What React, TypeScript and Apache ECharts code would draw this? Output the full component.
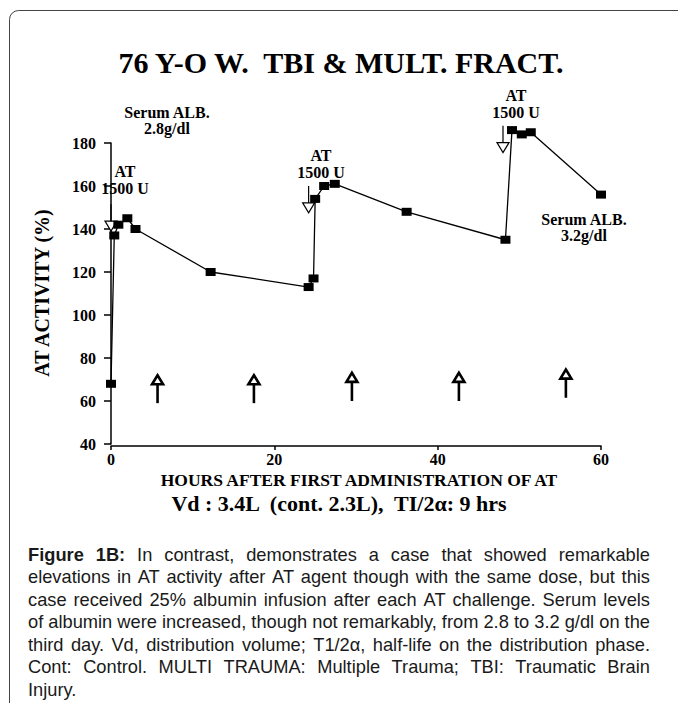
import React, { useEffect, useRef } from 'react';
import * as echarts from 'echarts';

// AT activity measurements
const hours = [0, 0.4, 0.9, 2, 3, 12.2, 24.2, 24.8, 25, 26.1, 27.4, 36.2, 48.3, 49.1, 50.3, 51.4, 60];
const activity = [68, 137, 142, 145, 140, 120, 113, 117, 154, 160, 161, 148, 135, 186, 184, 185, 156];

// AT 1500 U administrations (open down triangles): hour, tip value
const atDoseHours = [0, 24.2, 48.0];
const atDoseTip = [139, 147.5, 175.5];

// albumin infusion arrows: hour, bottom, top
const albHours = [5.7, 17.5, 29.5, 42.6, 55.7];
const albBottom = [59, 59, 60, 60, 61.5];
const albTop = [72, 72, 73.1, 73.1, 74.6];

const xTicks = [0, 20, 40, 60];
const yTicks = [40, 60, 80, 100, 120, 140, 160, 180];

const captionLines = [
  'Figure 1B: In contrast, demonstrates a case that showed remarkable',
  'elevations in AT activity after AT agent though with the same dose, but this',
  'case received 25% albumin infusion after each AT challenge. Serum levels',
  'of albumin were increased, though not remarkably, from 2.8 to 3.2 g/dl on the',
  'third day. Vd, distribution volume; T1/2\u03b1, half-life on the distribution phase.',
  'Cont: Control. MULTI TRAUMA: Multiple Trauma; TBI: Traumatic Brain',
  'Injury.',
];

const SERIF = '"Liberation Serif", "Times New Roman", serif';

function buildCaption(): any[] {
  const ctx = document.createElement('canvas').getContext('2d') as CanvasRenderingContext2D;
  const probe = 'elevations in AT activity after AT agent';
  ctx.font = '18px monospace';
  const mono = ctx.measureText(probe).width;
  ctx.font = '18px "Liberation Sans Narrow", monospace';
  const narrowOk = Math.abs(ctx.measureText(probe).width - mono) > 1;
  const SANS = narrowOk
    ? '"Liberation Sans Narrow", "Arial Narrow", sans-serif'
    : '"Liberation Sans", Arial, sans-serif';
  const fs = 18;
  const meas = (t: string, bold: boolean) => {
    ctx.font = `${bold ? 'bold ' : ''}${fs}px ${SANS}`;
    return ctx.measureText(t).width;
  };
  const left = 28;
  const right = 650;
  const width = right - left;
  const lines = captionLines.map((line, li) =>
    line.split(' ').map((w, wi) => ({ w, bold: li === 0 && wi < 2 }))
  );
  const spaceW = meas(' ', false);
  let maxNat = 0;
  lines.slice(0, 6).forEach((ws) => {
    const tot = ws.reduce((s, o) => s + meas(o.w, o.bold), 0) + spaceW * (ws.length - 1);
    maxNat = Math.max(maxNat, tot);
  });
  const sx = width / maxNat;
  const els: any[] = [];
  lines.forEach((ws, li) => {
    const y = 555 + li * 22.5;
    const widths = ws.map((o) => meas(o.w, o.bold) * sx);
    const sum = widths.reduce((a, b) => a + b, 0);
    const justify = li < captionLines.length - 1 && ws.length > 1;
    const gap = justify ? (width - sum) / (ws.length - 1) : spaceW * sx;
    let x = left;
    ws.forEach((o, i) => {
      els.push({
        type: 'text',
        x,
        y,
        scaleX: sx,
        style: {
          text: o.w,
          x: 0,
          y: 0,
          font: `${o.bold ? 'bold ' : ''}${fs}px ${SANS}`,
          fill: '#1a1a1a',
          textAlign: 'left',
          textVerticalAlign: 'middle',
        },
      });
      x += widths[i] + gap;
    });
  });
  return els;
}

function serifText(text: string, x: number, y: number, size: number, extra: any = {}, lineHeight?: number) {
  return {
    type: 'text',
    x,
    y,
    ...extra,
    style: {
      text,
      x: 0,
      y: 0,
      font: `bold ${size}px ${SERIF}`,
      fill: '#000',
      textAlign: 'center',
      textVerticalAlign: 'middle',
      ...(lineHeight ? { lineHeight } : {}),
    },
  };
}

export default function App() {
  const ref = useRef<HTMLDivElement>(null);
  useEffect(() => {
    if (!ref.current) return;
    const chart = echarts.init(ref.current, undefined, { renderer: 'svg' });

    const graphic: any[] = [
      {
        type: 'rect',
        shape: { x: 9.5, y: 10.5, width: 720, height: 760, r: 9 },
        style: { fill: 'none', stroke: '#444', lineWidth: 1 },
        silent: true,
      },
      serifText('76 Y-O W.  TBI & MULT. FRACT.', 341, 62, 30),
      serifText('Serum ALB.\n2.8g/dl', 167, 120, 16, {}, 16),
      serifText('AT\n1500 U', 125, 180, 16, {}, 17),
      serifText('AT\n1500 U', 321, 164, 16, {}, 17),
      serifText('AT\n1500 U', 516, 104, 16, {}, 17),
      serifText('Serum ALB.\n3.2g/dl', 584, 227, 16, {}, 16),
      serifText('AT ACTIVITY (%)', 42, 293, 20, { rotation: Math.PI / 2 }),
      serifText('HOURS AFTER FIRST ADMINISTRATION OF AT', 359, 480, 17.5),
      serifText('Vd : 3.4L  (cont. 2.3L),  TI/2\u03b1: 9 hrs', 339, 503, 22),
      ...buildCaption(),
    ];

    chart.setOption({
      animation: false,
      backgroundColor: '#fff',
      grid: { left: 111, right: 77, top: 143, bottom: 259, containLabel: false },
      xAxis: {
        type: 'value',
        min: 0,
        max: 60,
        interval: 20,
        offset: 2,
        splitLine: { show: false },
        axisLine: { show: true, lineStyle: { color: '#000', width: 1.5 } },
        axisTick: { show: true, length: 4, lineStyle: { color: '#000', width: 1.5 } },
        axisLabel: {
          margin: 5,
          color: '#000',
          fontFamily: SERIF,
          fontWeight: 'bold',
          fontSize: 16,
          formatter: (v: number) => (xTicks.includes(v) ? String(v) : ''),
        },
      },
      yAxis: {
        type: 'value',
        min: 40,
        max: 180,
        interval: 20,
        offset: 14,
        splitLine: { show: false },
        axisLine: { show: true, lineStyle: { color: '#000', width: 1.5 } },
        axisTick: { show: true, length: 7, lineStyle: { color: '#000', width: 1.5 } },
        axisLabel: {
          margin: 1,
          color: '#000',
          fontFamily: SERIF,
          fontWeight: 'bold',
          fontSize: 16,
          formatter: (v: number) => (yTicks.includes(v) ? String(v) : ''),
        },
      },
      series: [
        {
          type: 'custom',
          z: 1,
          clip: false,
          data: atDoseHours.map((h, i) => [h, atDoseTip[i]]),
          renderItem: (_p: any, api: any) => {
            const p = api.coord([api.value(0), api.value(1)]);
            const w = 12, h = 10, L = 17;
            return {
              type: 'group',
              children: [
                { type: 'line', shape: { x1: p[0], y1: p[1] - h - L, x2: p[0], y2: p[1] - h }, style: { stroke: '#000', lineWidth: 1.2 } },
                {
                  type: 'polygon',
                  shape: { points: [[p[0] - w / 2, p[1] - h], [p[0] + w / 2, p[1] - h], [p[0], p[1]]] },
                  style: { fill: '#fff', stroke: '#000', lineWidth: 1.2 },
                },
              ],
            };
          },
        },
        {
          type: 'custom',
          z: 1,
          clip: false,
          data: albHours.map((h, i) => [h, albBottom[i], albTop[i]]),
          renderItem: (_p: any, api: any) => {
            const b = api.coord([api.value(0), api.value(1)]);
            const t = api.coord([api.value(0), api.value(2)]);
            const w = 11, h = 9;
            return {
              type: 'group',
              children: [
                { type: 'line', shape: { x1: t[0], y1: t[1] + h, x2: b[0], y2: b[1] }, style: { stroke: '#000', lineWidth: 2.6 } },
                {
                  type: 'polygon',
                  shape: { points: [[t[0] - w / 2, t[1] + h], [t[0] + w / 2, t[1] + h], [t[0], t[1]]] },
                  style: { fill: '#fff', stroke: '#000', lineWidth: 2.6, lineJoin: 'miter' },
                },
              ],
            };
          },
        },
        {
          type: 'line',
          z: 3,
          clip: false,
          data: hours.map((h, i) => [h, activity[i]]),
          symbol: 'rect',
          symbolSize: [10, 8],
          showAllSymbol: true,
          itemStyle: { color: '#000' },
          lineStyle: { color: '#000', width: 1.3 },
        },
      ],
      graphic,
    });
    return () => chart.dispose();
  }, []);
  return (
    <div
      ref={ref}
      style={{ position: 'fixed', left: 0, top: 0, width: 678, height: 703, background: '#fff' }}
    />
  );
}
